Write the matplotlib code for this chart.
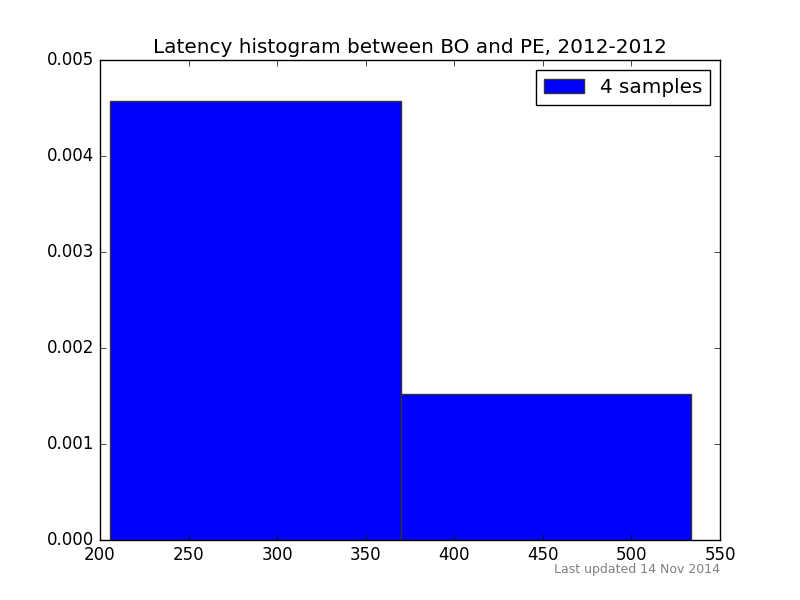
#!/usr/bin/env python

import matplotlib
matplotlib.use("Agg")
import matplotlib.pyplot as plt

# latencies (3 in the low bin, 1 in the high bin)
latencies = [205.8, 280.0, 340.0, 533.6]
n_bins = 2
title = "Latency histogram between BO and PE, 2012-2012"
footnote = "Last updated 14 Nov 2014"

plt.style.use("classic")
fig = plt.figure(figsize=(8, 6), dpi=100)
ax = fig.add_subplot(111)

ax.hist(latencies, bins=n_bins, density=True, color="b", edgecolor="#333333",
        linewidth=1.0, label="%d samples" % len(latencies))
ax.set_xlim(200, 550)
ax.set_ylim(0, 0.005)
ax.set_title(title)
ax.legend(loc="upper right")

fig.text(0.9, 0.05, footnote, ha="right", va="center", fontsize=9, color="gray")

fig.savefig("out.png", dpi=100)
